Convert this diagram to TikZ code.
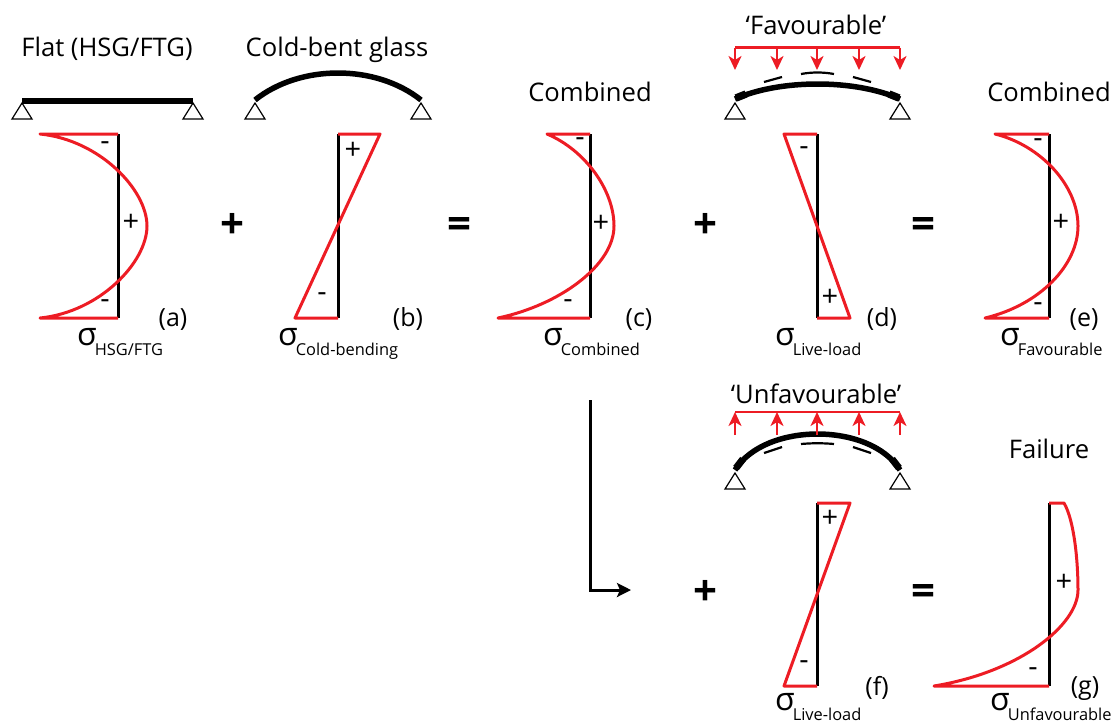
\documentclass[tikz,border=0pt]{standalone}
\usepackage{fontspec}
\setmainfont{Open Sans}
\usepackage{xcolor}
\usetikzlibrary{arrows.meta, positioning, calc}
\definecolor{StressRed}{RGB}{237,28,36}
\newcommand{\sigmalabel}[1]{{\fontsize{32}{32}\selectfont σ}\kern-2pt\raisebox{-10pt}{\fontsize{16.4}{16.4}\selectfont #1}}

\begin{document}
\begin{tikzpicture}[
  x=1pt, y=-1pt,
  title/.style={font=\fontsize{25.6}{25.6}\selectfont, anchor=base, inner sep=0pt},
  tag/.style={font=\fontsize{25}{25}\selectfont, anchor=base, inner sep=0pt},
  stresslabel/.style={anchor=base west, inner sep=0pt},
  sign/.style={font=\fontsize{29}{29}\selectfont, inner sep=0pt},
  opsign/.style={font=\fontsize{42}{42}\selectfont\bfseries, inner sep=0pt},
  axisline/.style={draw=black, line width=3pt},
  stress/.style={draw=StressRed, line width=3pt, line join=round},
  beam/.style={draw=black, line width=5.5pt},
  support/.style={draw=black, line width=1.2pt},
  sheet/.style={draw=black, line width=2.2pt},
  load/.style={draw=StressRed, line width=2.3pt},
  loadarrow/.style={draw=StressRed, line width=2.3pt, -{Stealth[length=14pt, width=13pt, inset=4pt]}},
  turn/.style={draw=black, line width=3pt, -{Stealth[length=14pt, width=14pt, inset=3pt]}}
]
\useasboundingbox (0,0) rectangle (1113,724);

% titles
\node[title] (tflat) at (107,56) {Flat (HSG/FTG)};
\node[title] (tcold) at (337,56) {Cold-bent glass};
\node[title] (tcomb) at (590,101) {Combined};
\node[title] (tfav) at (816,34) {‘Favourable’};
\node[title] (tcombb) at (1049,101) {Combined};
\node[title] (tunfav) at (816,403) {‘Unfavourable’};
\node[title] (tfail) at (1049,458) {Failure};

% beams
\draw[beam] (22,101) -- (193,101);
\draw[beam] (255,100) .. controls (300,64) and (376,64) .. (421,100);
\draw[beam] (735,99) .. controls (780,79) and (855,79) .. (900,99);
\draw[draw=black, line width=7.5pt] (736,98) -- (746,94);
\draw[draw=black, line width=7.5pt] (899,98) -- (889,94);
\draw[beam] (735,470) .. controls (765,422) and (870,422) .. (900,470);
\draw[draw=black, line width=7pt] (736,468) -- (743,459);
\draw[draw=black, line width=7pt] (899,468) -- (892,459);

% supports
\draw[support] (22,103) -- (32,119) -- (12,119) -- cycle;
\draw[support] (193,103) -- (203,119) -- (183,119) -- cycle;
\draw[support] (255,103) -- (265,119) -- (245,119) -- cycle;
\draw[support] (421,103) -- (431,119) -- (411,119) -- cycle;
\draw[support] (735,103) -- (745,119) -- (725,119) -- cycle;
\draw[support] (900,103) -- (910,119) -- (890,119) -- cycle;
\draw[support] (735,473) -- (745,489) -- (725,489) -- cycle;
\draw[support] (900,473) -- (910,489) -- (890,489) -- cycle;

% glass sheets above and below the beam
\draw[sheet] (764,82) -- (782,77);
\draw[sheet] (801,74) .. controls (812,72) and (823,72) .. (834,74);
\draw[sheet] (853,77) -- (871,82);
\draw[sheet] (764,453) -- (782,447);
\draw[sheet] (801,444) .. controls (812,443) and (823,443) .. (834,444);
\draw[sheet] (853,447) -- (871,453);

% loads
\draw[load] (735,47.5) -- (900,47.5);
\foreach \px in {735,777,817,859,900}{
  \draw[loadarrow] (\px,47.5) -- (\px,70);
}
\draw[load] (735,412) -- (900,412);
\foreach \px in {735,777,817,859,900}{
  \draw[loadarrow] (\px,435) -- (\px,412);
}

% stress diagrams
\draw[axisline] (118,134) -- (118,318);
\draw[stress] (118,134) -- (40,134) .. controls (100,140) and (147,190) .. (147,226)
  .. controls (147,262) and (100,312) .. (40,318) -- (118,318);
\draw[axisline] (338,134) -- (338,318);
\draw[stress] (338,134) -- (380,134) -- (295,318) -- (338,318);
\draw[axisline] (590,134) -- (590,318);
\draw[stress] (590,134) -- (547,134) .. controls (585,150) and (614,190) .. (614,226)
  .. controls (614,265) and (560,305) .. (498,318) -- (590,318);
\draw[axisline] (817,134) -- (817,318);
\draw[stress] (817,134) -- (784,134) -- (850,318) -- (817,318);
\draw[axisline] (1049,134) -- (1049,318);
\draw[stress] (1049,134) -- (995,134) .. controls (1040,145) and (1078,185) .. (1078,226)
  .. controls (1078,265) and (1040,305) .. (985,318) -- (1049,318);
\draw[axisline] (817,503) -- (817,686);
\draw[stress] (817,503) -- (850,503) -- (784,686) -- (817,686);
\draw[axisline] (1049,503) -- (1049,686);
\draw[stress] (1049,503) -- (1064,503) .. controls (1074,520) and (1078,560) .. (1078,590)
  .. controls (1078,625) and (1020,672) .. (934,686) -- (1049,686);

% signs inside the diagrams
\node[sign] (sa1) at (105,146) {-};
\node[sign] (sa2) at (131,223) {+};
\node[sign] (sa3) at (105,304) {-};
\node[sign] (sb1) at (353,151) {+};
\node[sign] (sb2) at (322,297) {-};
\node[sign] (sc1) at (580,142) {-};
\node[sign] (sc2) at (601,224) {+};
\node[sign] (sc3) at (568,304) {-};
\node[sign] (sd1) at (804,151) {-};
\node[sign] (sd2) at (830,298) {+};
\node[sign] (se1) at (1038,143) {-};
\node[sign] (se2) at (1061,223) {+};
\node[sign] (se3) at (1038,307) {-};
\node[sign] (sf1) at (830,519) {+};
\node[sign] (sf2) at (804,665) {-};
\node[sign] (sg1) at (1064,583) {+};
\node[sign] (sg2) at (1033,672) {-};

% plus and equals
\node[opsign] (p1) at (232,226) {+};
\node[opsign] (e1) at (459,228) {=};
\node[opsign] (p2) at (705,226) {+};
\node[opsign] (e2) at (923,228) {=};
\node[opsign] (p3) at (705,593) {+};
\node[opsign] (e3) at (923,595) {=};

% case letters
\node[tag] (la) at (173,326) {(a)};
\node[tag] (lb) at (408,326) {(b)};
\node[tag] (lc) at (639,326) {(c)};
\node[tag] (ld) at (882,326) {(d)};
\node[tag] (le) at (1084,326) {(e)};
\node[tag] (lf) at (877,695) {(f)};
\node[tag] (lg) at (1085,694) {(g)};

% stress names
\node[stresslabel] (na) at (77,345) {\sigmalabel{HSG/FTG}};
\node[stresslabel] (nb) at (278,345) {\sigmalabel{Cold-bending}};
\node[stresslabel] (nc) at (543,345) {\sigmalabel{Combined}};
\node[stresslabel] (nd) at (775,345) {\sigmalabel{Live-load}};
\node[stresslabel] (ne) at (1000,345) {\sigmalabel{Favourable}};
\node[stresslabel] (nf) at (775,710) {\sigmalabel{Live-load}};
\node[stresslabel] (ng) at (990,710) {\sigmalabel{Unfavourable}};

% link to the lower row
\coordinate (from) at (590,400);
\coordinate (bend) at (590,590);
\coordinate (to) at (631,590);
\draw[turn] (from) -- (bend) -- (to);
\end{tikzpicture}
\end{document}
